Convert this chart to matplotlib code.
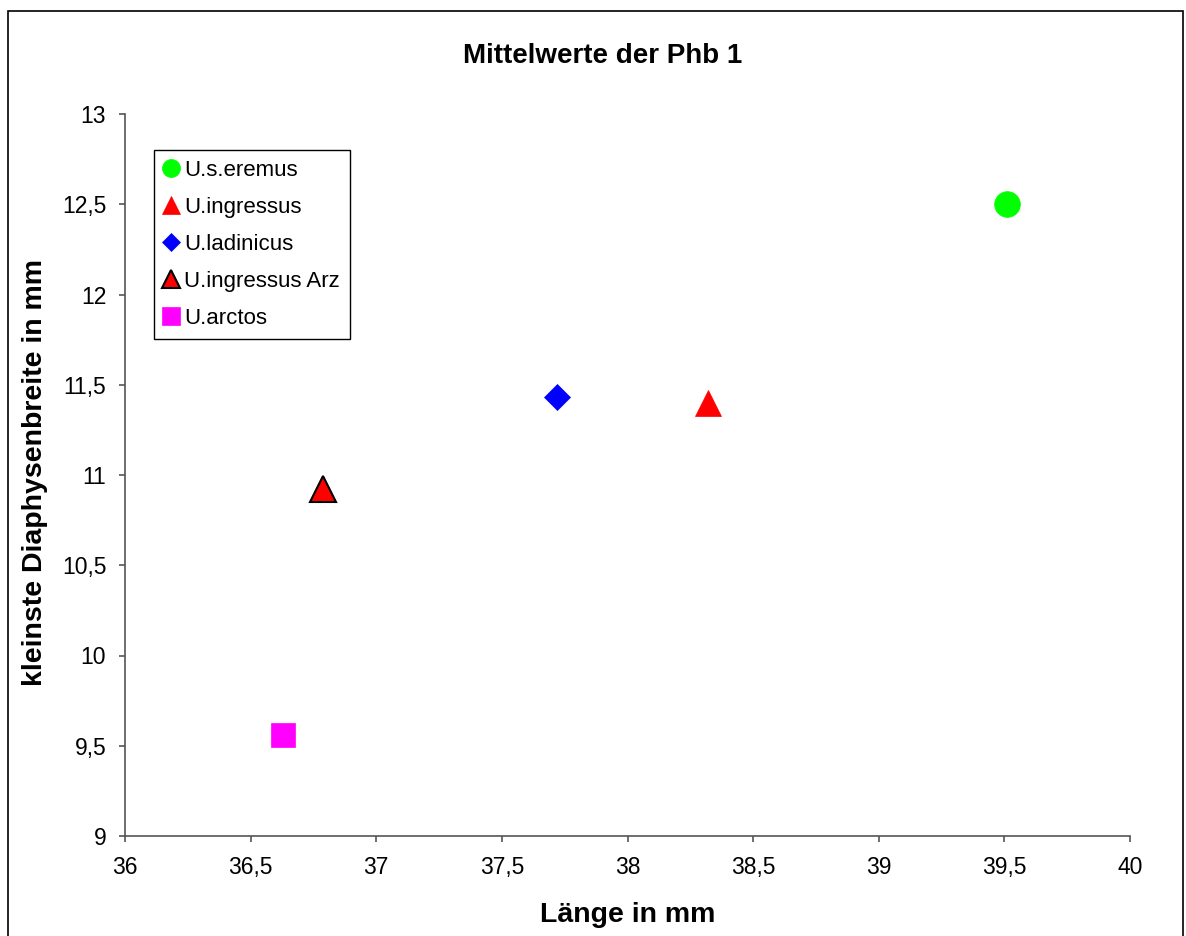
"""Mittelwerte der Phb 1 - scatter of mean values."""
import matplotlib.pyplot as plt
from matplotlib.patches import Rectangle

plt.rcParams["font.family"] = ["Liberation Sans", "DejaVu Sans"]

# mean values per taxon
taxa = ["U.s.eremus", "U.ingressus", "U.ladinicus", "U.ingressus Arz", "U.arctos"]
laenge = [39.51, 38.32, 37.72, 36.79, 36.63]
breite = [12.50, 11.40, 11.43, 10.92, 9.56]

# marker, face colour, edge colour, size (pt)
styles = [
    ("o", "#00ff00", "#00ff00", 18.5),
    ("^", "#ff0000", "#ff0000", 18.5),
    ("D", "#0000ff", "#0000ff", 13.5),
    ("^", "#ff0000", "#000000", 18.5),
    ("s", "#ff00ff", "#ff00ff", 17.5),
]

fig = plt.figure(figsize=(11.86, 9.36), dpi=100)
ax = fig.add_axes([125 / 1186, 1 - 836 / 936, 1005 / 1186, 722 / 936])

for name, x, y, (m, fc, ec, ms) in zip(taxa, laenge, breite, styles):
    ax.plot([x], [y], linestyle="none", marker=m, markersize=ms,
            markerfacecolor=fc, markeredgecolor=ec,
            markeredgewidth=1.5 if ec == "#000000" else 0.5,
            label=name, clip_on=False)

ax.set_xlim(36, 40)
ax.set_ylim(9, 13)
ax.set_xticks([36, 36.5, 37, 37.5, 38, 38.5, 39, 39.5, 40])
ax.set_xticklabels(["36", "36,5", "37", "37,5", "38", "38,5", "39", "39,5", "40"])
ax.set_yticks([9, 9.5, 10, 10.5, 11, 11.5, 12, 12.5, 13])
ax.set_yticklabels(["9", "9,5", "10", "10,5", "11", "11,5", "12", "12,5", "13"])

for side in ("top", "right"):
    ax.spines[side].set_visible(False)
for side in ("left", "bottom"):
    ax.spines[side].set_color("#555555")
    ax.spines[side].set_linewidth(1.2)
ax.tick_params(direction="out", length=4.5, width=1.2, color="#555555",
               labelsize=16.5)
ax.tick_params(axis="x", pad=10)
ax.tick_params(axis="y", pad=9)

ax.set_xlabel("Länge in mm", fontsize=20.5, fontweight="bold", va="center")
ax.xaxis.set_label_coords(0.5, (836 - 915) / 722)
ax.set_ylabel("kleinste Diaphysenbreite in mm", fontsize=20.5,
              fontweight="bold", va="center")
ax.yaxis.set_label_coords((35 - 125) / 1005, (836 - 473) / 722)
fig.text(603 / 1186, 1 - 56 / 936, "Mittelwerte der Phb 1", fontsize=20,
         fontweight="bold", ha="center", va="center")

leg = ax.legend(loc="upper left", bbox_to_anchor=(29 / 1005, 1 - 36 / 722),
                fontsize=16, markerscale=0.7, handlelength=0.6,
                handletextpad=0.3, labelspacing=0.72, borderpad=0.45,
                borderaxespad=0, fancybox=False, framealpha=1,
                edgecolor="black")
leg.get_frame().set_linewidth(1.0)

# outer frame around the chart area
fig.patches.append(Rectangle((8 / 1186, -0.01), 1175 / 1186, 1 - 11 / 936 + 0.01,
                             transform=fig.transFigure, fill=False,
                             edgecolor="black", linewidth=1.2))

fig.savefig("out.png", dpi=100)
